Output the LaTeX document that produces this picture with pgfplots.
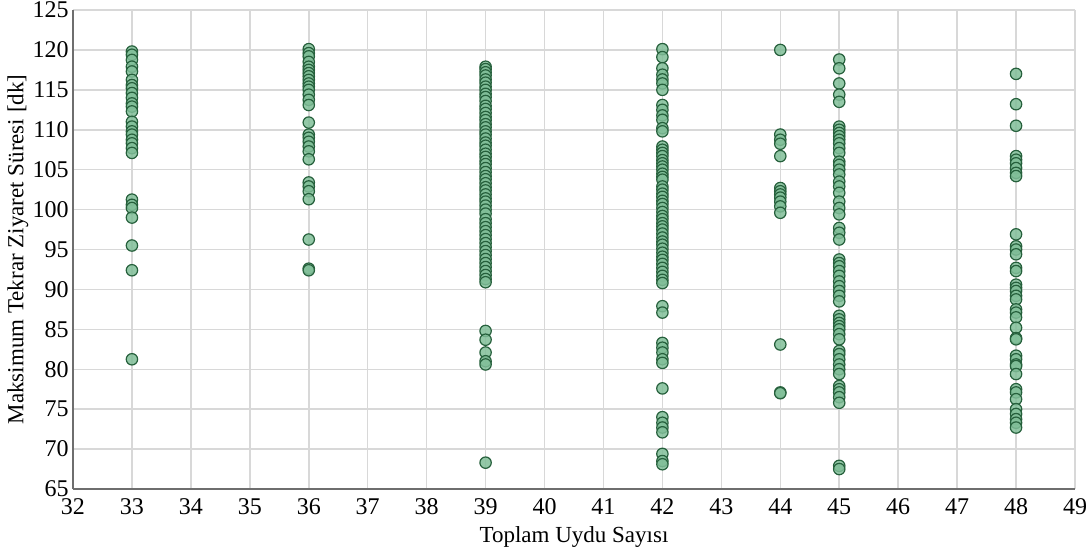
\documentclass[border=0pt]{standalone}
\usepackage{pgfplots}
\pgfplotsset{compat=1.18}
\usepackage{fontspec}
\setmainfont{Liberation Serif}
\definecolor{gridc}{RGB}{216,216,216}
\definecolor{axc}{RGB}{110,110,110}
\definecolor{mfill}{RGB}{128,190,152}
\definecolor{medge}{RGB}{38,96,60}
\begin{document}
\begin{tikzpicture}
\begin{axis}[
  scale only axis,
  width=501pt, height=239.5pt,
  xmin=32, xmax=49, ymin=65, ymax=125,
  xtick={32,33,...,49}, ytick={65,70,...,125},
  grid=major,
  major grid style={gridc, line width=0.75pt},
  axis x line*=bottom, axis y line*=left,
  axis line style={axc, line width=0.8pt, -},
  major tick length=0pt,
  /pgf/number format/assume math mode=true,
  tick label style={font=\fontsize{12}{14}\selectfont, black},
  xticklabel style={anchor=center, yshift=-9pt},
  yticklabel style={anchor=east, xshift=0pt, inner sep=2pt},
  label style={font=\fontsize{11.5}{13}\selectfont},
  xlabel={Toplam Uydu Sayısı},
  ylabel={Maksimum Tekrar Ziyaret Süresi [dk]},
  xlabel style={at={(axis description cs:0.5,-0.1)}, anchor=center},
  ylabel style={at={(axis description cs:-0.055,0.5)}, anchor=center},
  clip=false,
]
\addplot[only marks, mark=*, mark size=2.85pt,
  mark options={fill=mfill, draw=medge, line width=0.6pt, fill opacity=0.85}]
coordinates {
(33,119.8)(33,119.4)(33,118.75)(33,117.9)(33,117.3)(33,116.25)(33,115.6)(33,115.2)(33,114.6)(33,114)(33,113.3)(33,112.9)(33,112.3)(33,111.0)(33,110.4)(33,109.8)(33,109.4)(33,108.75)(33,108.3)(33,107.7)(33,107.1)
(33,101.25)(33,100.6)(33,100.2)(33,99.0)(33,95.5)(33,92.4)(33,81.25)
(36,120.1)(36,119.6)(36,119.2)(36,118.5)(36,117.9)(36,117.5)(36,117.1)(36,116.7)(36,116.25)(36,115.8)(36,115.4)(36,115.0)(36,114.4)(36,113.75)(36,113.1)
(36,110.9)(36,109.4)(36,109.0)(36,108.5)(36,107.9)(36,107.3)(36,106.3)(36,103.4)(36,102.9)(36,102.3)(36,101.3)(36,96.25)(36,92.6)(36,92.4)
(39,117.9)(39,117.6)(39,117.2)(39,116.8)(39,116.3)(39,115.9)(39,115.4)(39,115.0)(39,114.5)(39,114.1)(39,113.6)(39,113.0)(39,112.6)(39,112.1)(39,111.6)(39,111.2)(39,110.7)(39,110.3)(39,109.8)(39,109.4)(39,108.9)(39,108.4)(39,108.0)(39,107.5)(39,107.0)(39,106.6)(39,106.1)(39,105.7)(39,105.2)(39,104.7)(39,104.2)(39,103.8)(39,103.3)(39,102.8)(39,102.4)(39,101.9)(39,101.4)(39,101.0)(39,100.5)(39,100.0)(39,99.5)(39,98.8)(39,98.3)(39,97.8)(39,97.3)(39,96.8)(39,96.3)(39,95.8)(39,95.3)(39,94.8)(39,94.3)(39,93.8)(39,93.3)(39,92.8)(39,92.3)(39,91.8)(39,91.3)(39,90.9)
(39,84.8)(39,83.7)(39,82.1)(39,81.0)(39,80.6)(39,68.3)
(42,120.1)(42,119.1)(42,117.7)(42,116.9)(42,116.3)(42,115.8)(42,115.0)(42,113.1)(42,112.5)(42,111.8)(42,111.25)(42,110.2)(42,109.8)(42,107.9)(42,107.5)(42,107.1)(42,106.7)(42,106.2)(42,105.8)(42,105.4)(42,105.0)(42,104.5)(42,104.1)(42,103.75)(42,102.9)(42,102.5)(42,102.0)(42,101.6)(42,101.1)(42,100.7)(42,100.2)(42,99.7)(42,99.2)(42,98.8)(42,98.3)(42,97.9)(42,97.5)(42,97.0)(42,96.5)(42,96.0)(42,95.6)(42,95.1)(42,94.6)(42,94.1)(42,93.7)(42,93.2)(42,92.7)(42,92.2)(42,91.7)(42,91.2)(42,90.8)
(42,87.9)(42,87.1)(42,83.3)(42,82.7)(42,82.1)(42,81.25)(42,80.8)(42,77.6)(42,74.0)(42,73.3)(42,72.7)(42,72.1)(42,69.4)(42,68.5)(42,68.1)
(44,120.0)(44,109.4)(44,108.75)(44,108.25)(44,106.7)(44,102.7)(44,102.3)(44,101.9)(44,101.5)(44,101.0)(44,100.4)(44,99.6)(44,83.1)(44,77.1)(44,77.0)
(45,118.8)(45,117.7)(45,115.8)(45,114.4)(45,113.5)(45,110.4)(45,110.0)(45,109.6)(45,109.2)(45,108.75)(45,108.3)(45,107.7)(45,107.1)(45,106.0)(45,105.6)(45,105.0)(45,104.4)(45,103.5)(45,102.9)(45,102.1)(45,101.0)(45,100.2)(45,99.4)(45,97.7)(45,97.1)(45,96.25)
(45,93.75)(45,93.3)(45,92.9)(45,92.3)(45,91.7)(45,91.0)(45,90.4)(45,89.8)(45,89.2)(45,88.5)(45,86.7)(45,86.25)(45,85.8)(45,85.4)(45,85.0)(45,84.4)(45,83.75)(45,82.3)(45,81.9)(45,81.25)(45,80.6)(45,80.0)(45,79.4)(45,77.9)(45,77.5)(45,77.1)(45,76.5)(45,75.8)(45,67.9)(45,67.5)
(48,117.0)(48,113.2)(48,110.5)(48,106.7)(48,106.25)(48,105.8)(48,105.2)(48,104.6)(48,104.2)(48,96.9)(48,95.4)(48,95.0)(48,94.4)(48,92.7)(48,92.3)(48,90.6)(48,90.2)(48,89.8)(48,89.2)(48,88.75)(48,87.5)(48,87.1)(48,86.5)(48,85.2)(48,83.9)(48,83.75)(48,81.7)(48,81.25)(48,80.6)(48,80.4)(48,79.4)(48,77.5)(48,77.1)(48,76.25)(48,75.0)(48,74.4)(48,73.75)(48,73.3)(48,72.7)
};
\end{axis}
\pgfresetboundingbox
\path[use as bounding box] (-36.5pt,-32pt) rectangle (508pt,244.5pt);
\end{tikzpicture}
\end{document}
